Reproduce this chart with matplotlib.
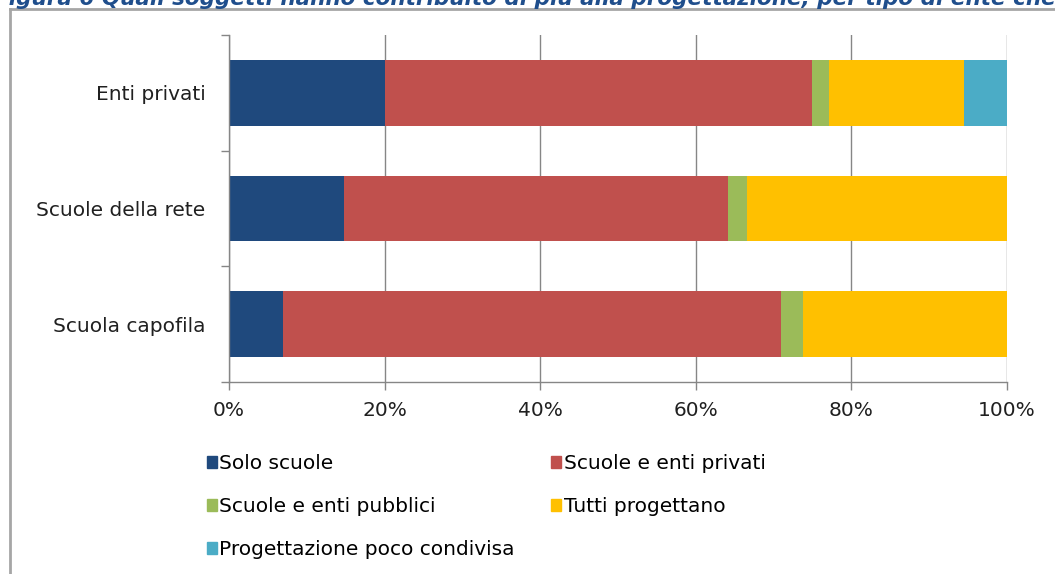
import numpy as np
import matplotlib
matplotlib.use("Agg")
import matplotlib.pyplot as plt
from matplotlib.lines import Line2D
from matplotlib.patches import Patch

# dati (% per categoria, dal basso verso l'alto)
categorie = ["Scuola capofila", "Scuole della rete", "Enti privati"]
solo_scuole = [6.9, 14.8, 20.1]
scuole_privati = [64.1, 49.3, 54.8]
scuole_pubblici = [2.8, 2.5, 2.2]
tutti = [26.2, 33.4, 17.4]
poco_condivisa = [0.0, 0.0, 5.5]

serie = [
    ("Solo scuole", solo_scuole, "#1F497D"),
    ("Scuole e enti privati", scuole_privati, "#C0504D"),
    ("Scuole e enti pubblici", scuole_pubblici, "#9BBB59"),
    ("Tutti progettano", tutti, "#FFC000"),
    ("Progettazione poco condivisa", poco_condivisa, "#4BACC6"),
]
xtick_lab = ["0%", "20%", "40%", "60%", "80%", "100%"]

FS = 14.5
W, H = 1055, 574
fig = plt.figure(figsize=(W/100, H/100), dpi=100)
ax = fig.add_axes([229/W, 1-382/H, (1007-229)/W, (382-35)/H])

y = np.arange(len(categorie))
left = np.zeros(len(categorie))
for nome, vals, col in serie:
    vals = np.array(vals)
    ax.barh(y, vals, left=left, height=0.57, color=col, label=nome, zorder=2)
    left += vals

grid_c = "#868686"
ax.set_xlim(0, 100)
ax.set_ylim(-0.5, 2.5)
ax.set_xticks(np.arange(0, 101, 20))
ax.set_xticklabels(xtick_lab)
ax.xaxis.grid(True, color=grid_c, lw=1.0, zorder=0)
ax.set_yticks(y)
ax.set_yticklabels(categorie)
ax.set_yticks([-0.5, 0.5, 1.5, 2.5], minor=True)
ax.tick_params(axis="y", which="major", length=0, pad=17, labelsize=FS, labelcolor="#202020")
ax.tick_params(axis="y", which="minor", length=6, color=grid_c, width=1)
ax.tick_params(axis="x", length=6, color=grid_c, width=1, pad=8, labelsize=FS, labelcolor="#202020")
for s in ["top", "right"]:
    ax.spines[s].set_visible(False)
for s in ["left", "bottom"]:
    ax.spines[s].set_color(grid_c)
    ax.spines[s].set_linewidth(1.0)

# legenda: due colonne, quadratini
h = {nome: Patch(color=col) for nome, _, col in serie}
ordine = ["Solo scuole", "Scuole e enti pubblici", "Progettazione poco condivisa",
          "Scuole e enti privati", "Tutti progettano"]
fig.legend([h[n] for n in ordine], ordine, ncol=2, loc="upper left",
           bbox_to_anchor=(207/W, 1-454/H), frameon=False, fontsize=FS,
           handlelength=0.5, handleheight=0.5, handletextpad=0.12,
           labelspacing=1.2, columnspacing=1.8, borderpad=0, borderaxespad=0)

# cornice del riquadro e titolo tagliato in alto
fig.add_artist(Line2D([10/W, 10/W], [0, 1-9/H], color="#A6A6A6", lw=2, transform=fig.transFigure))
fig.add_artist(Line2D([10/W, 1], [1-9/H, 1-9/H], color="#A6A6A6", lw=2, transform=fig.transFigure))
fig.text(-6/W, 1+2/H, "Figura 6 Quali soggetti hanno contribuito di più alla progettazione, per tipo di ente che",
         fontsize=15.5, fontweight="bold", fontstyle="italic", color="#1F4E8C", va="center", ha="left")

fig.savefig("out.png", dpi=100)
